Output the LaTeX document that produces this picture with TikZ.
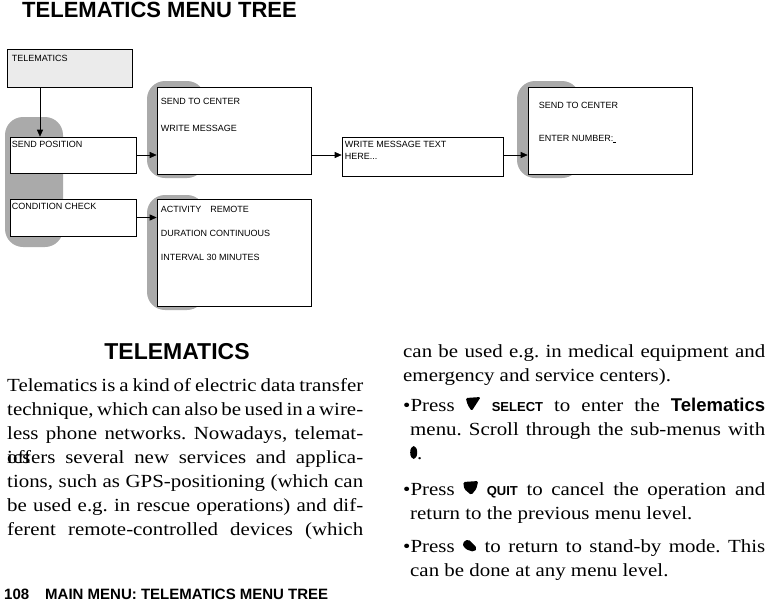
\documentclass[tikz,border=0pt]{standalone}
\usepackage{fontspec}
\setmainfont{Liberation Serif}[FakeStretch=1.13]
\newfontfamily\hsans{Liberation Sans}
\usepackage{xcolor}
\definecolor{Shade}{RGB}{170,170,170}
\definecolor{Pale}{RGB}{235,235,235}
\usetikzlibrary{arrows.meta}
\frenchspacing
\tikzset{
  menubox/.style={draw=black, line width=0.6pt, fill=white, inner sep=0pt},
  shade/.style={fill=Shade, rounded corners=18pt},
  menutext/.style={anchor=north west, inner sep=0pt, font=\hsans\fontsize{9}{14}\selectfont, align=left},
  arr/.style={-{Triangle[length=7pt,width=6pt]}, line width=0.6pt},
  body/.style={anchor=base west, inner sep=0pt, font=\fontsize{18.5}{24}\selectfont},
  line/.style={anchor=base west, inner sep=0pt, text width=#1, align=justify, font=\fontsize{18.5}{24}\selectfont},
}
\begin{document}
\begin{tikzpicture}[x=1pt, y=-1pt]
  \useasboundingbox (0,0) rectangle (765,603);

  % Title
  \node[anchor=west, inner sep=0pt, font=\hsans\bfseries\fontsize{22}{22}\selectfont] (title) at (22,10) {TELEMATICS MENU TREE};

  % Shadows
  \fill[shade] (5,117) rectangle (63,247);
  \fill[shade] (147,81) rectangle (205,178);
  \fill[shade] (147,195) rectangle (205,310);
  \fill[shade] (517,81) rectangle (580,178);

  % Boxes
  \node[menubox, fill=Pale, minimum width=125pt, minimum height=38pt] (tele) at (69.5,68) {};
  \node[menubox, minimum width=126pt, minimum height=36pt] (pos) at (73,155) {};
  \node[menubox, minimum width=126pt, minimum height=37pt] (cond) at (73,217.5) {};
  \node[menubox, minimum width=154pt, minimum height=87pt] (send) at (234,130.5) {};
  \node[menubox, minimum width=154pt, minimum height=107pt] (act) at (234,252.5) {};
  \node[menubox, minimum width=161pt, minimum height=39pt] (write) at (422.5,156.5) {};
  \node[menubox, minimum width=164pt, minimum height=87pt] (number) at (610,130.5) {};

  % Text
  \node[menutext] at ([shift={(5,6)}]tele.north west) {TELEMATICS};
  \node[menutext] at ([shift={(2,4)}]pos.north west) {SEND POSITION};
  \node[menutext] at ([shift={(2,4)}]cond.north west) {CONDITION CHECK};
  \node[menutext, font=\hsans\fontsize{9}{27}\selectfont] at ([shift={(4,11)}]send.north west) {SEND TO CENTER\\WRITE MESSAGE};
  \node[menutext, font=\hsans\fontsize{9}{24}\selectfont] at ([shift={(4,7)}]act.north west) {ACTIVITY\quad REMOTE\\DURATION CONTINUOUS\\INTERVAL 30 MINUTES};
  \node[menutext, font=\hsans\fontsize{9}{12}\selectfont] at ([shift={(3,4)}]write.north west) {WRITE MESSAGE TEXT\\HERE...};
  \node[menutext, font=\hsans\fontsize{9}{33}\selectfont] at ([shift={(11,15)}]number.north west) {SEND TO CENTER\\ENTER NUMBER:\underline{\ }};

  % Lines
  \draw[arr] (tele.south -| 40,0) -- (pos.north -| 40,0);
  \draw[arr] (pos.east) -- (pos.east -| send.west);
  \draw[arr] (cond.east) -- (cond.east -| act.west);
  \draw[arr] (send.east |- pos.east) -- (write.west |- pos.east);
  \draw[arr] (write.east |- pos.east) -- (number.west |- pos.east);

  % Left column
  \node[anchor=center, inner sep=0pt, font=\hsans\bfseries\fontsize{23}{23}\selectfont] (head) at (177,352) {TELEMATICS};
  \node[line=356pt] (l1) at (7,391) {Telematics is a kind of electric data transfer\linebreak};
  \node[line=356pt] (l2) at (7,415) {technique, which can also be used in a wire-\linebreak};
  \node[line=356pt] (l3) at (7,439) {less phone networks. Nowadays, telematics\linebreak};
  \node[line=356pt] (l4) at (7,463) {offers several new services and applica-\linebreak};
  \node[line=356pt] (l5) at (7,487) {tions, such as GPS-positioning (which can\linebreak};
  \node[line=356pt] (l6) at (7,511) {be used e.g. in rescue operations) and dif-\linebreak};
  \node[line=356pt] (l7) at (7,535) {ferent remote-controlled devices (which\linebreak};

  % Right column
  \node[line=362pt] (r1) at (403,357) {can be used e.g. in medical equipment and\linebreak};
  \node[body] (r2) at (403,381) {emergency and service centers).};
  \node[line=362pt] (r3) at (403,411) {\textbullet Press \tikz[x=1pt,y=1pt,baseline=0pt]\fill[rounded corners=1.5pt] (0,13)--(15,14)--(6,0)--(2,6)--cycle; {\hsans\bfseries\fontsize{13}{13}\selectfont SELECT} to enter the {\hsans\bfseries Telematics}\linebreak};
  \node[line=355pt] (r4) at (410,435) {menu. Scroll through the sub-menus with\linebreak};
  \node[body] (r5) at (410,459) {\tikz[x=1pt,y=1pt,baseline=0pt]\fill (3.5,6.5) ellipse (3.5pt and 6.5pt);.};
  \node[line=362pt] (r6) at (403,495) {\textbullet Press \tikz[x=1pt,y=1pt,baseline=0pt]\fill[rounded corners=1.5pt] (0,13)--(15,14)--(13,6)--(8,0)--(1,6)--cycle; {\hsans\bfseries\fontsize{13}{13}\selectfont QUIT} to cancel the operation and\linebreak};
  \node[body] (r7) at (410,519) {return to the previous menu level.};
  \node[line=362pt] (r8) at (403,552) {\textbullet Press \tikz[x=1pt,y=1pt,baseline=0pt]\fill[rounded corners=2pt] (0,9)--(6,13)--(15,4)--(12,0)--(3,3)--cycle; to return to stand-by mode. This\linebreak};
  \node[body] (r9) at (410,576) {can be done at any menu level.};

  % Footer
  \node[anchor=west, inner sep=0pt, font=\hsans\bfseries\fontsize{15}{15}\selectfont] (foot) at (4,594) {108\hspace{16pt}MAIN MENU: TELEMATICS MENU TREE};
\end{tikzpicture}
\end{document}
